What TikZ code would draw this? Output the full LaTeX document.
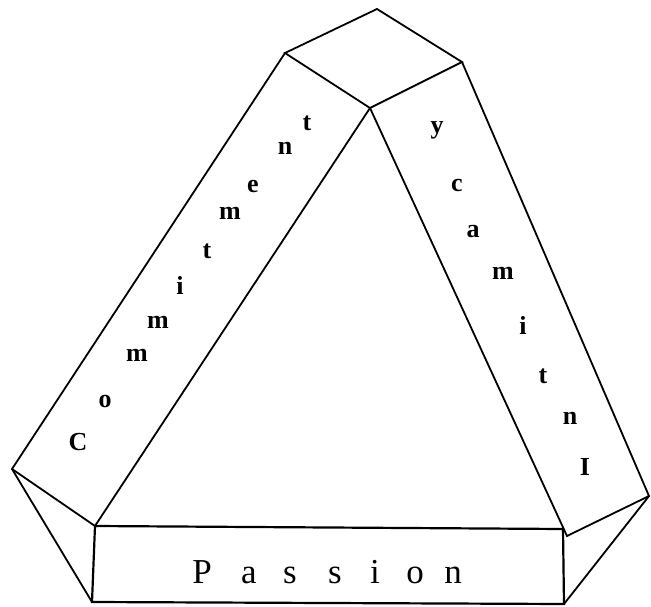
\documentclass[tikz,border=0pt]{standalone}
\usepackage{fontspec}
\setmainfont{Liberation Serif}
\begin{document}
\begin{tikzpicture}[x=1pt,y=-1pt,
  edge/.style={line width=1.8pt,line join=miter},
  boxedge/.style={line width=2.2pt},
  bandletter/.style={font=\bfseries\fontsize{26}{26}\selectfont,inner sep=0pt},
  passletter/.style={font=\fontsize{35}{35}\selectfont,inner sep=0pt}]
\useasboundingbox (0,0) rectangle (651,607);
% vertices
\coordinate (Ttop) at (377,9);
\coordinate (Tleft) at (285,53);
\coordinate (Tright) at (462,62);
\coordinate (Tin) at (370,108);
\coordinate (Lout) at (12,469);
\coordinate (Rout) at (649,496);
\coordinate (PTL) at (95,526);
\coordinate (PTR) at (563,529);
\coordinate (PBR) at (564,604);
\coordinate (PBL) at (92,602);
\coordinate (Rin) at (567,536);
% top square
\draw[edge] (Tleft) -- (Ttop) -- (Tright) -- (Tin) -- cycle;
% left band (Commitment)
\draw[edge] (Tleft) -- (Lout) -- (PTL) -- (Tin);
% right band (Intimacy)
\draw[edge] (Tright) -- (Rout) -- (Rin) -- (Tin);
% side triangles
\draw[edge] (Lout) -- (PBL);
\draw[edge] (Rout) -- (PBR);
% passion box
\draw[boxedge] (PTL) -- (PTR) -- (PBR) -- (PBL) -- cycle;
% Commitment
\node[bandletter] (c1) at (78,442) {C};
\node[bandletter] (c2) at (105,401) {o};
\node[bandletter] (c3) at (137,355) {m};
\node[bandletter] (c4) at (158,322) {m};
\node[bandletter] (c5) at (180,285) {i};
\node[bandletter] (c6) at (207,251) {t};
\node[bandletter] (c7) at (230,213) {m};
\node[bandletter] (c8) at (253,187) {e};
\node[bandletter] (c9) at (285,148) {n};
\node[bandletter] (c10) at (307,123) {t};
% Intimacy (reversed)
\node[bandletter] (i1) at (437,130) {y};
\node[bandletter] (i2) at (457,185) {c};
\node[bandletter] (i3) at (473,232) {a};
\node[bandletter] (i4) at (503,273) {m};
\node[bandletter] (i5) at (523,325) {i};
\node[bandletter] (i6) at (543,376) {t};
\node[bandletter] (i7) at (570,418) {n};
\node[bandletter] (i8) at (585,467) {I};
% Passion
\node[passletter] (p1) at (202,572) {P};
\node[passletter] (p2) at (249,575) {a};
\node[passletter] (p3) at (290,575) {s};
\node[passletter] (p4) at (335,575) {s};
\node[passletter] (p5) at (375,572) {i};
\node[passletter] (p6) at (415,575) {o};
\node[passletter] (p7) at (453,575) {n};
\end{tikzpicture}
\end{document}
